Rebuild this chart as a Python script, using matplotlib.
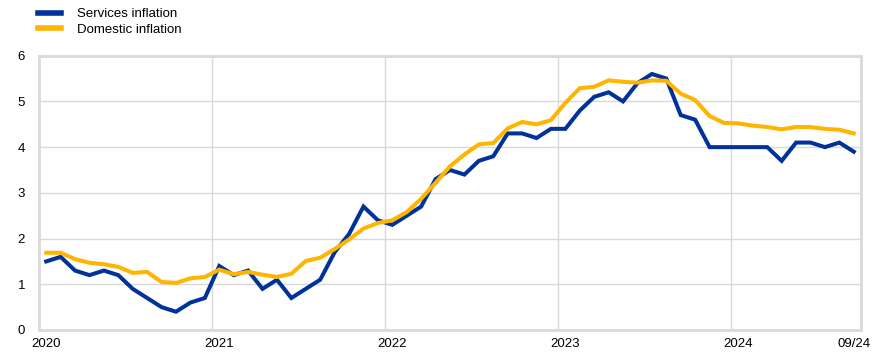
import matplotlib
matplotlib.use("Agg")
import matplotlib.pyplot as plt
import numpy as np

plt.rcParams['font.family'] = ['Liberation Sans', 'DejaVu Sans']

months = [f"{y}-{m:02d}" for y in range(2020, 2025) for m in range(1, 13)][:57]

services = [1.5, 1.6, 1.3, 1.2, 1.3, 1.2, 0.9, 0.7, 0.5, 0.4, 0.6, 0.7,
            1.4, 1.2, 1.3, 0.9, 1.1, 0.7, 0.9, 1.1, 1.7, 2.1, 2.7, 2.4,
            2.3, 2.5, 2.7, 3.3, 3.5, 3.4, 3.7, 3.8, 4.3, 4.3, 4.2, 4.4,
            4.4, 4.8, 5.1, 5.2, 5.0, 5.4, 5.6, 5.5, 4.7, 4.6, 4.0, 4.0,
            4.0, 4.0, 4.0, 3.7, 4.1, 4.1, 4.0, 4.1, 3.9]

domestic = [1.69, 1.69, 1.55, 1.47, 1.44, 1.38, 1.25, 1.27, 1.05, 1.03, 1.13, 1.16,
            1.32, 1.22, 1.27, 1.21, 1.16, 1.23, 1.51, 1.58, 1.77, 1.98, 2.22, 2.34,
            2.40, 2.58, 2.87, 3.22, 3.58, 3.84, 4.06, 4.09, 4.41, 4.55, 4.50, 4.59,
            4.97, 5.29, 5.32, 5.46, 5.43, 5.41, 5.46, 5.45, 5.17, 5.03, 4.68, 4.53,
            4.52, 4.47, 4.44, 4.39, 4.44, 4.44, 4.40, 4.38, 4.30]

tick_labels = ["2020", "2021", "2022", "2023", "2024", "09/24"]
tick_months = ["2020-01", "2021-01", "2022-01", "2023-01", "2024-01", "2024-09"]
y_ticks = [0, 1, 2, 3, 4, 5, 6]

blue = "#003299"
yellow = "#FFB400"
grid_c = "#d9d9d9"

fig = plt.figure(figsize=(8.86, 3.56), dpi=100)
ax = fig.add_axes([39/886, 1 - 330/356, (861-39)/886, (330-55.7)/356])

x = np.arange(len(months)) + 0.5
ax.plot(x, services, color=blue, lw=2.9, label="Services inflation", solid_joinstyle='miter', zorder=3)
ax.plot(x, domestic, color=yellow, lw=2.9, label="Domestic inflation", solid_joinstyle='miter', zorder=3)

ax.set_xlim(0, len(months))
ax.set_ylim(0, 6)
ax.set_yticks(y_ticks)
ax.set_xticks([months.index(m) + 0.5 for m in tick_months])
ax.set_xticklabels(tick_labels)
ax.tick_params(axis='both', which='both', length=0, labelsize=9.5, colors='black')
ax.tick_params(axis='x', pad=6)
ax.tick_params(axis='y', pad=10)
ax.grid(False)
for v in y_ticks:
    ax.axhline(v, color=grid_c, lw=1, zorder=1)
for v in [12, 24, 36, 48]:
    ax.axvline(v, color=grid_c, lw=1, zorder=1)
for s in ax.spines.values():
    s.set_color(grid_c)
    s.set_linewidth(2)

fs = 9.5
fspx = fs * 100 / 72
leg = fig.legend(loc='upper left', bbox_to_anchor=(38/886, 1 - 8/356), frameon=False,
                 fontsize=fs, handlelength=23/fspx, handletextpad=16/fspx,
                 labelspacing=(16.7 - fspx)/fspx, borderpad=0, borderaxespad=0)
for h in leg.get_lines():
    h.set_linewidth(4)

fig.savefig("out.png", dpi=100)
